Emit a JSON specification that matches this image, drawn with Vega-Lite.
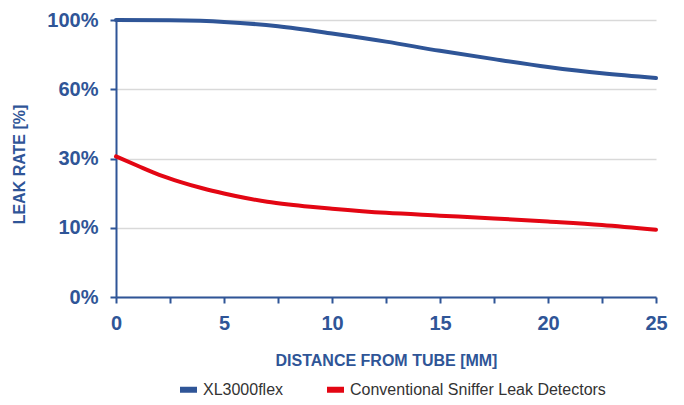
{
  "$schema": "https://vega.github.io/schema/vega-lite/v6.json",
  "autosize": {"type": "none"},
  "width": 540,
  "height": 277,
  "padding": {"left": 116, "top": 20, "right": 28, "bottom": 108},
  "background": "white",
  "config": {
    "font": "Liberation Sans",
    "view": {"stroke": null}
  },
  "data": {
    "values": [
      {"distance": 0, "rate": 100, "series": "XL3000flex"},
      {"distance": 2.5, "rate": 99.8, "series": "XL3000flex"},
      {"distance": 5, "rate": 98.9, "series": "XL3000flex"},
      {"distance": 7.5, "rate": 96.4, "series": "XL3000flex"},
      {"distance": 10, "rate": 92.2, "series": "XL3000flex"},
      {"distance": 12.5, "rate": 87.5, "series": "XL3000flex"},
      {"distance": 15, "rate": 82.2, "series": "XL3000flex"},
      {"distance": 17.5, "rate": 77.4, "series": "XL3000flex"},
      {"distance": 20, "rate": 72.9, "series": "XL3000flex"},
      {"distance": 22.5, "rate": 69.2, "series": "XL3000flex"},
      {"distance": 25, "rate": 66.5, "series": "XL3000flex"},
      {"distance": 0, "rate": 30.9, "series": "Conventional Sniffer Leak Detectors"},
      {"distance": 1, "rate": 27.9, "series": "Conventional Sniffer Leak Detectors"},
      {"distance": 2, "rate": 25.3, "series": "Conventional Sniffer Leak Detectors"},
      {"distance": 3, "rate": 23.2, "series": "Conventional Sniffer Leak Detectors"},
      {"distance": 4, "rate": 21.4, "series": "Conventional Sniffer Leak Detectors"},
      {"distance": 5, "rate": 19.9, "series": "Conventional Sniffer Leak Detectors"},
      {"distance": 6, "rate": 18.6, "series": "Conventional Sniffer Leak Detectors"},
      {"distance": 7, "rate": 17.5, "series": "Conventional Sniffer Leak Detectors"},
      {"distance": 8, "rate": 16.7, "series": "Conventional Sniffer Leak Detectors"},
      {"distance": 9, "rate": 16.05, "series": "Conventional Sniffer Leak Detectors"},
      {"distance": 10, "rate": 15.5, "series": "Conventional Sniffer Leak Detectors"},
      {"distance": 12.5, "rate": 14.3, "series": "Conventional Sniffer Leak Detectors"},
      {"distance": 15, "rate": 13.5, "series": "Conventional Sniffer Leak Detectors"},
      {"distance": 17.5, "rate": 12.7, "series": "Conventional Sniffer Leak Detectors"},
      {"distance": 20, "rate": 11.8, "series": "Conventional Sniffer Leak Detectors"},
      {"distance": 22.5, "rate": 10.8, "series": "Conventional Sniffer Leak Detectors"},
      {"distance": 25, "rate": 9.7, "series": "Conventional Sniffer Leak Detectors"}
    ]
  },
  "mark": {"type": "line", "interpolate": "monotone", "strokeWidth": 4, "strokeCap": "round"},
  "encoding": {
    "x": {
      "field": "distance",
      "type": "quantitative",
      "scale": {"domain": [0, 25], "nice": false, "zero": false},
      "axis": {
        "title": "DISTANCE FROM TUBE [MM]",
        "values": [0, 2.5, 5, 7.5, 10, 12.5, 15, 17.5, 20, 22.5, 25],
        "labelExpr": "datum.value % 5 === 0 ? datum.label : ''",
        "grid": false,
        "domainColor": "#2F5597",
        "domainWidth": 2,
        "tickColor": "#2F5597",
        "tickWidth": 2,
        "tickSize": 6,
        "labelFontSize": 20,
        "labelFontWeight": "bold",
        "labelColor": "#2F5597",
        "labelPadding": 10,
        "labelFlush": false,
        "titleFontSize": 16,
        "titleFontWeight": "bold",
        "titleColor": "#2F5597",
        "titlePadding": 19
      }
    },
    "y": {
      "field": "rate",
      "type": "quantitative",
      "scale": {"domain": [0, 10, 30, 60, 100], "range": [277, 207.75, 138.5, 69.25, 0], "nice": false, "zero": false},
      "axis": {
        "title": "LEAK RATE [%]",
        "values": [0, 10, 30, 60, 100],
        "labelExpr": "datum.value + '%'",
        "grid": true,
        "gridColor": "#D9D9D9",
        "gridWidth": 1.5,
        "domainColor": "#2F5597",
        "domainWidth": 2,
        "tickColor": "#2F5597",
        "tickWidth": 2,
        "tickSize": 6,
        "labelFontSize": 20,
        "labelFontWeight": "bold",
        "labelColor": "#2F5597",
        "labelPadding": 12,
        "titleFontSize": 16,
        "titleFontWeight": "bold",
        "titleColor": "#2F5597",
        "titleX": -89,
        "titleY": 144
      }
    },
    "color": {
      "field": "series",
      "type": "nominal",
      "scale": {"domain": ["XL3000flex", "Conventional Sniffer Leak Detectors"], "range": ["#2F5597", "#E30613"]},
      "legend": {
        "title": null,
        "orient": "none",
        "direction": "horizontal",
        "legendX": 61,
        "legendY": 358,
        "symbolType": "stroke",
        "symbolStrokeWidth": 6,
        "symbolSize": 289,
        "labelFontSize": 16,
        "labelColor": "#333333",
        "labelOffset": 3,
        "labelLimit": 400,
        "columnPadding": 31,
        "padding": 0
      }
    }
  }
}
